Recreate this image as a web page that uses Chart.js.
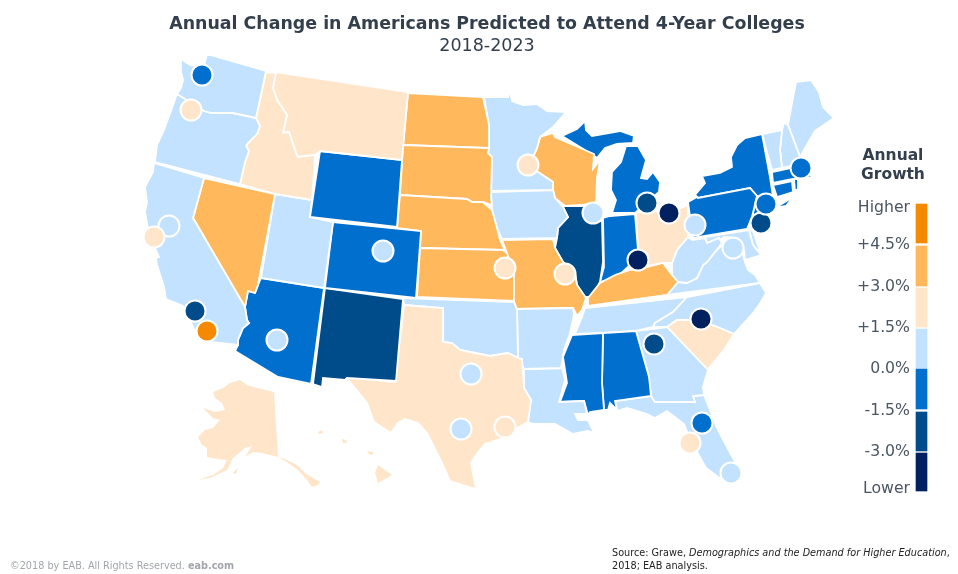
<!DOCTYPE html>
<html>
<head>
<meta charset="utf-8">
<script src="https://cdn.jsdelivr.net/npm/chart.js@4"></script>
<style>
html,body{margin:0;padding:0;background:#fff}
#wrap{width:958px;height:574px}
</style>
</head>
<body>
<div id="wrap"><canvas id="chartId"></canvas></div>
<script>
// growth bins, highest to lowest
const binColors = ['#F58A00','#FFB85C','#FFE6CA','#C2E2FF','#006FCD','#004B8A','#002060']
const legendLabels = ['Higher','+4.5%','+3.0%','+1.5%','0.0%','-1.5%','-3.0%','Lower']
const legendLabelY = [208,245,287,328,369,411,452,489]
const legendTop = [204,246,288,329,369,412,453]
const legendBottom = [243,286,327,368,409,451,491]

// state outlines, in picture coordinates
const WA = [[181,59],[190,65],[196,66],[204,66],[207,54],[266,71],[256,118],[233,113],[212,113],[204,111],[195,105],[177,94],[181,88],[183,80],[181,72]]
const OR = [[177,94],[195,105],[204,111],[212,113],[233,113],[256,118],[260,126],[257,134],[248,143],[246,146],[249,151],[245,162],[240,184],[155,162],[157,145],[164,130],[172,108]]
const CA = [[154,163],[204,178],[193,218],[245,307],[247,320],[249,323],[243,328],[238,340],[238,345],[200,341],[190,321],[183,306],[166,299],[164,287],[157,265],[156,258],[159,257],[149,235],[145,212],[147,202],[145,187],[153,172]]
const NV = [[204,178],[275,194],[258,285],[255,293],[248,291],[245,307],[193,218]]
const ID = [[266,72],[276,73],[273,88],[277,100],[287,115],[283,133],[289,132],[296,153],[298,157],[315,155],[312,200],[275,194],[240,184],[245,162],[249,151],[246,146],[248,143],[257,134],[260,126],[256,118]]
const MT = [[276,72],[408,92],[402,160],[320,151],[315,155],[298,157],[296,153],[289,132],[283,133],[287,115],[277,100],[273,88]]
const WY = [[320,151],[402,160],[397,227],[310,217]]
const UT = [[275,194],[312,200],[310,217],[333,222],[324,288],[261,278]]
const CO = [[333,222],[421,231],[416,298],[325,288]]
const AZ = [[261,278],[324,288],[311,384],[278,377],[235,351],[238,345],[238,340],[243,328],[249,323],[247,320],[245,307],[248,291],[255,293],[258,285]]
const NM = [[325,288],[403,299],[396,381],[347,378],[345,380],[323,378],[322,387],[313,384]]
const TX = [[404,305],[443,308],[443,342],[452,343],[460,350],[470,352],[490,356],[508,353],[518,358],[522,359],[524,388],[531,400],[528,422],[517,428],[500,439],[485,444],[476,455],[471,463],[476,489],[450,481],[442,463],[427,433],[418,423],[405,419],[398,423],[391,433],[374,422],[367,403],[346,377],[395,382]]
const OK = [[403,298],[514,302],[517,310],[518,358],[508,353],[490,356],[470,352],[460,350],[452,343],[443,342],[443,308],[404,305]]
const AR = [[517,309],[573,308],[574,315],[570,333],[564,350],[561,368],[524,369],[518,358]]
const LA = [[524,369],[562,368],[565,380],[559,402],[584,401],[587,414],[575,414],[578,420],[588,420],[594,433],[588,431],[573,434],[555,424],[533,424],[528,422],[531,400],[524,388]]
const MS = [[572,335],[603,333],[602,383],[604,410],[590,412],[588,415],[584,401],[560,402],[567,383],[563,357]]
const AL = [[603,333],[636,331],[649,377],[651,396],[615,401],[617,410],[610,403],[608,410],[604,410],[602,383]]
const GA = [[636,331],[667,327],[708,370],[703,387],[704,395],[693,396],[695,402],[655,402],[651,396],[649,377]]
const FL = [[615,401],[651,396],[655,402],[695,402],[693,396],[704,395],[718,430],[734,460],[743,473],[728,484],[706,468],[691,441],[684,424],[667,411],[655,418],[647,414],[627,408],[617,411]]
const SC = [[667,327],[677,320],[692,320],[715,326],[734,334],[724,350],[709,368],[708,371]]
const NC = [[687,297],[760,283],[766,293],[761,302],[753,313],[734,334],[715,326],[692,320],[677,320],[667,327],[653,327],[655,323],[673,312]]
const TN = [[575,334],[582,317],[585,308],[687,297],[673,312],[655,323],[653,327],[636,331],[603,333]]
const KY = [[588,298],[600,283],[615,275],[630,270],[643,268],[663,263],[672,275],[678,282],[667,295],[588,306]]
const MO = [[502,240],[553,239],[555,248],[563,262],[575,273],[577,285],[586,298],[582,310],[577,316],[573,308],[517,309],[514,302],[514,275],[510,262],[507,253]]
const KS = [[420,248],[503,250],[510,255],[514,277],[514,301],[417,297]]
const NE = [[400,195],[467,199],[472,202],[483,202],[492,210],[497,228],[500,240],[505,250],[420,248],[421,231],[397,228]]
const SD = [[403,145],[489,148],[488,153],[492,157],[491,198],[492,205],[483,202],[472,202],[467,199],[400,195]]
const ND = [[408,93],[483,97],[489,125],[489,148],[403,145]]
const MN = [[484,97],[508,97],[510,91],[512,101],[523,105],[537,104],[547,111],[566,112],[553,127],[540,137],[537,148],[533,157],[527,165],[538,172],[553,182],[553,190],[491,191],[492,157],[488,153],[489,148],[489,125]]
const IA = [[491,192],[553,190],[555,198],[563,207],[568,217],[558,228],[557,238],[502,239],[497,228],[492,210]]
const WI = [[540,137],[553,133],[555,137],[594,154],[593,169],[600,160],[597,178],[596,204],[565,206],[555,198],[553,190],[553,182],[538,172],[527,165],[533,157],[537,148]]
const IL = [[565,206],[583,206],[593,213],[602,222],[603,262],[600,282],[592,297],[585,297],[577,285],[575,273],[563,262],[555,248],[557,238],[558,228],[568,217],[563,207]]
const IN = [[603,218],[610,216],[635,214],[638,250],[628,267],[617,277],[600,282],[604,267]]
const OH = [[636,213],[647,210],[669,213],[688,205],[688,237],[677,250],[672,263],[663,263],[643,267],[638,250]]
const MI_LOWER = [[612,213],[635,213],[650,200],[659,192],[660,182],[653,172],[647,179],[641,178],[646,160],[638,146],[626,146],[621,162],[612,172],[611,190],[616,200]]
const MI_UPPER = [[562,136],[577,129],[585,121],[586,130],[592,136],[620,131],[634,136],[633,143],[617,144],[605,148],[597,158],[593,155]]
const WV = [[688,237],[692,240],[705,238],[707,243],[719,238],[722,243],[715,252],[707,262],[703,265],[697,278],[687,283],[678,282],[672,275],[672,263],[677,250]]
const VA = [[667,295],[678,282],[687,283],[697,278],[703,265],[707,262],[715,252],[722,245],[730,240],[740,245],[745,262],[748,270],[755,275],[760,283]]
const MD = [[705,237],[749,230],[753,245],[761,255],[745,260],[744,250],[737,238],[724,237],[720,240],[707,243]]
const DE = [[749,230],[753,231],[761,255],[753,245]]
const PA = [[688,202],[697,197],[698,198],[750,188],[757,196],[752,217],[747,229],[693,238]]
const NY = [[762,134],[770,177],[773,197],[777,202],[757,196],[750,188],[698,198],[695,195],[705,183],[702,176],[720,173],[732,167],[731,157],[737,145],[745,138]]
const LONG_ISLAND = [[775,208],[793,197],[786,206]]
const NJ = [[757,196],[771,206],[768,225],[753,228],[752,217]]
const VT = [[762,134],[782,130],[780,150],[782,168],[772,170]]
const NH = [[784,123],[788,125],[800,157],[795,165],[782,168],[780,150],[782,130]]
const ME = [[788,125],[792,103],[796,82],[811,80],[819,92],[823,107],[834,118],[815,131],[800,157]]
const MA = [[772,172],[795,167],[801,168],[813,177],[800,179],[793,179],[773,183]]
const CT = [[773,185],[792,181],[793,192],[777,197]]
const RI = [[794,179],[798,179],[798,189],[795,191]]
const AK = [[240,380],[230,383],[223,388],[213,392],[215,398],[222,403],[225,410],[215,412],[203,408],[208,413],[213,418],[220,420],[213,428],[205,430],[198,437],[202,445],[207,448],[207,457],[218,459],[227,460],[223,468],[213,475],[198,480],[210,478],[227,470],[233,458],[245,448],[252,446],[245,457],[253,452],[262,453],[278,457],[274,392],[257,388],[247,385]]
const AK_SOUTHEAST = [[278,457],[285,459],[297,465],[305,473],[320,482],[318,485],[312,487],[307,480],[298,470],[287,462]]
const KODIAK = [[233,473],[238,468],[236,474]]
const HI_BIG = [[378,465],[392,475],[378,483],[375,473]]
const HI_MAUI = [[367,451],[373,452],[373,455],[369,454]]
const HI_OAHU = [[342,439],[346,440],[347,443],[343,443]]
const HI_KAUAI = [[318,432],[322,430],[323,433],[319,434]]

// which bin each outline falls in
const statePolys = [WA,OR,CA,NV,ID,MT,WY,UT,CO,AZ,NM,TX,OK,AR,LA,MS,AL,GA,FL,SC,NC,TN,KY,MO,KS,NE,SD,ND,MN,IA,WI,IL,IN,OH,MI_LOWER,MI_UPPER,WV,VA,MD,DE,PA,NY,LONG_ISLAND,NJ,VT,NH,ME,MA,CT,RI,AK,AK_SOUTHEAST,KODIAK,HI_BIG,HI_MAUI,HI_OAHU,HI_KAUAI]
const stateBins = [3,3,3,1,2,2,4,3,4,4,5,2,3,3,3,4,4,3,3,2,3,3,1,1,1,1,1,1,3,3,1,5,4,2,4,4,3,3,3,3,4,4,4,4,3,3,3,4,4,4,2,2,2,2,2,2,2]
const noBorder = [AK,AK_SOUTHEAST,KODIAK,HI_BIG,HI_MAUI,HI_OAHU,HI_KAUAI]

// metro circles
const cityX = [202,191,169,154,195,207,277,383,528,505,565,593,647,669,695,638,733,761,766,801,701,654,702,690,731,471,461,505]
const cityY = [75,110,226,237,311,331,340,251,165,268,274,213,203,213,225,260,248,223,204,168,319,344,423,443,473,374,429,427]
const cityBin = [4,2,3,2,5,0,3,3,2,2,2,3,5,6,3,6,3,5,4,4,6,5,4,2,3,3,3,2]

const TEXT_DARK = '#333F4D'
const TEXT_MID = '#4B5663'

var mapDatasets = statePolys.map((poly, i) => ({
    type: 'scatter',
    data: poly.concat([poly[0]]).map(p => ({x: p[0], y: p[1]})),
    showLine: true,
    fill: 'shape',
    tension: 0,
    backgroundColor: binColors[stateBins[i]],
    borderColor: '#fff',
    borderWidth: noBorder.includes(poly) ? 0 : 1.8,
    pointRadius: 0,
    order: 2
}))

var cityDataset = {
    type: 'scatter',
    data: cityX.map((x, i) => ({x: x, y: cityY[i]})),
    showLine: false,
    pointRadius: 10.5,
    pointBackgroundColor: cityBin.map(b => binColors[b]),
    pointBorderColor: '#fff',
    pointBorderWidth: 2,
    order: 0
}

var legendDataset = {
    type: 'bar',
    data: legendTop.map((t, i) => ({x: 921.5, y: [t, legendBottom[i]]})),
    backgroundColor: binColors,
    barThickness: 11,
    order: 1
}

// texts that are not chart title: legend and footer
const textPlugin = {
    id: 'mapTexts',
    afterDraw(chart) {
        const ctx = chart.ctx, sx = chart.scales.x, sy = chart.scales.y
        ctx.save()
        ctx.textBaseline = 'middle'
        ctx.fillStyle = TEXT_DARK
        ctx.textAlign = 'center'
        ctx.font = 'bold 15.5px "DejaVu Sans"'
        ctx.fillText('Annual', sx.getPixelForValue(893), sy.getPixelForValue(156))
        ctx.fillText('Growth', sx.getPixelForValue(893), sy.getPixelForValue(175))
        ctx.fillStyle = TEXT_MID
        ctx.textAlign = 'right'
        ctx.font = '15.7px "DejaVu Sans"'
        legendLabels.forEach((l, i) => ctx.fillText(l, sx.getPixelForValue(910), sy.getPixelForValue(legendLabelY[i])))

        ctx.textAlign = 'left'
        ctx.fillStyle = '#A2A6AC'
        ctx.font = '9.7px "DejaVu Sans"'
        ctx.fillText('©2018 by EAB. All Rights Reserved. ', 10, 566)
        let w = ctx.measureText('©2018 by EAB. All Rights Reserved. ').width
        ctx.font = 'bold 9.7px "DejaVu Sans"'
        ctx.fillText('eab.com', 10 + w, 566)

        ctx.fillStyle = '#222'
        ctx.font = '9.7px "DejaVu Sans"'
        let x = 612
        ctx.fillText('Source: Grawe, ', x, 553)
        x += ctx.measureText('Source: Grawe, ').width
        ctx.font = 'italic 9.7px "DejaVu Sans"'
        ctx.fillText('Demographics and the Demand for Higher Education', x, 553)
        x += ctx.measureText('Demographics and the Demand for Higher Education').width
        ctx.font = '9.7px "DejaVu Sans"'
        ctx.fillText(',', x, 553)
        ctx.fillText('2018; EAB analysis.', 612, 566)
        ctx.restore()
    }
}

new Chart(document.getElementById('chartId').getContext('2d'), {
    type: 'scatter',
    data: {datasets: [cityDataset, legendDataset].concat(mapDatasets)},
    options: {
        responsive: true,
        maintainAspectRatio: false,
        animation: false,
        layout: {padding: {left: 16}, autoPadding: false},
        plugins: {
            legend: {display: false},
            tooltip: {enabled: false},
            title: {
                display: true,
                text: 'Annual Change in Americans Predicted to Attend 4-Year Colleges',
                color: TEXT_DARK,
                font: {family: '"DejaVu Sans"', size: 17.4, weight: 'bold', lineHeight: '20px'},
                padding: {top: 14, bottom: 0}
            },
            subtitle: {
                display: true,
                text: '2018-2023',
                color: TEXT_DARK,
                font: {family: '"DejaVu Sans"', size: 17.5, lineHeight: '20px'},
                padding: {top: 2, bottom: 0}
            }
        },
        scales: {
            x: {type: 'linear', min: 16, max: 958, display: false, offset: false},
            y: {type: 'linear', min: 56, max: 574, reverse: true, display: false}
        }
    },
    plugins: [textPlugin]
})
</script>
</body>
</html>
